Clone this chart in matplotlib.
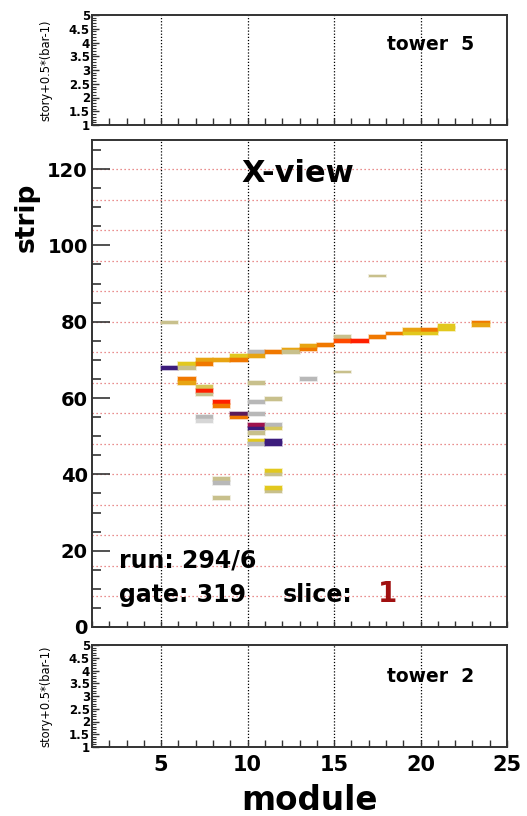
import matplotlib
matplotlib.use("Agg")
import matplotlib.pyplot as plt
from matplotlib.colors import to_rgba
from matplotlib.ticker import MultipleLocator, FixedLocator, FixedFormatter

plt.rcParams['font.family'] = ['DejaVu Sans']
plt.rcParams['font.weight'] = 'bold'

# ---------------- data ----------------
palette = {
    'purple': '#3c1c7c', 'plum': '#5c1a58', 'crimson': '#a0124c',
    'red': '#ff2000', 'redorange': '#ff4a00', 'orange': '#f07800',
    'amber': '#e8a412', 'yellow': '#e2c81e', 'ykhaki': '#d6c65a',
    'khaki': '#c8c08c', 'gray': '#b8b8b8', 'ltgray': '#d6d6d6',
}
hit_module = [5, 5,
              6, 6, 6, 6,
              7, 7, 7, 7, 7, 7, 7,
              8, 8, 8, 8, 8, 8,
              9, 9, 9, 9,
              10, 10, 10, 10, 10, 10, 10, 10, 10, 10,
              11, 11, 11, 11, 11, 11, 11, 11, 11, 11,
              12, 12,
              13, 13, 13,
              14,
              15, 15, 15,
              16,
              17, 17,
              18,
              19, 19,
              20, 20,
              21, 21,
              23, 23]
hit_strip = [67.3, 79.3,
             68.4, 67.4, 64.4, 63.4,
             69.4, 68.4, 62.3, 61.3, 60.4, 54.5, 53.5,
             69.4, 58.5, 57.5, 38.3, 37.2, 33.3,
             70.4, 69.4, 55.3, 54.5,
             71.6, 70.4, 63.4, 58.4, 55.3, 52.5, 51.5, 50.3, 48.3, 47.4,
             71.6, 59.3, 52.5, 51.5, 48.3, 47.4, 40.3, 39.5, 35.2, 35.9,
             72.4, 71.6,
             73.2, 72.4, 64.5,
             73.4,
             75.4, 74.4, 66.5,
             74.4,
             75.4, 91.7,
             76.4,
             77.4, 76.4,
             77.4, 76.4,
             77.5, 78.3,
             79.6, 78.6]
hit_size = [1, 1,
            1, 1, 1, 1,
            1, 1, 1, 1, 0.8, 1, 1,
            1, 1, 1, 1, 1, 1,
            1, 1, 1, 0.8,
            1, 1, 1, 1, 1, 1, 1, 1, 1, 1,
            1, 1, 1, 1, 1, 1, 1, 0.8, 1, 1,
            0.6, 1,
            1, 0.7, 1,
            1,
            1, 1, 0.6,
            1,
            1, 0.6,
            1,
            1, 1,
            1, 1,
            1, 1,
            0.7, 1]
hit_color = ['purple', 'khaki',
             'yellow', 'khaki', 'orange', 'amber',
             'amber', 'orange', 'ykhaki', 'red', 'khaki', 'gray', 'ltgray',
             'amber', 'red', 'orange', 'khaki', 'gray', 'khaki',
             'yellow', 'orange', 'plum', 'orange',
             'gray', 'amber', 'khaki', 'gray', 'gray', 'crimson', 'purple', 'khaki', 'yellow', 'gray',
             'orange', 'khaki', 'gray', 'ykhaki', 'purple', 'purple', 'yellow', 'khaki', 'khaki', 'yellow',
             'amber', 'khaki',
             'amber', 'orange', 'gray',
             'orange',
             'khaki', 'redorange', 'khaki',
             'red',
             'orange', 'khaki',
             'orange',
             'amber', 'yellow',
             'orange', 'yellow',
             'yellow', 'yellow',
             'orange', 'amber']

module_ticks = [5, 10, 15, 20, 25]
strip_ticks = [0, 20, 40, 60, 80, 100, 120]
story_ticks = [1, 1.5, 2, 2.5, 3, 3.5, 4, 4.5, 5]
story_labels = ['1', '1.5', '2', '2.5', '3', '3.5', '4', '4.5', '5']
grid_strips = list(range(8, 121, 8))
grid_modules = [5, 10, 15, 20]

# ---------------- figure ----------------
W, H = 527, 816
fig = plt.figure(figsize=(W / 100, H / 100), dpi=100)

def ax_px(x0, y0, x1, y1):
    return fig.add_axes([x0 / W, 1 - y1 / H, (x1 - x0) / W, (y1 - y0) / H])

def fpx(x, y):
    return x / W, 1 - y / H

frame_col = '#333333'

def style_frame(ax):
    for s in ax.spines.values():
        s.set_linewidth(1.4)
        s.set_color(frame_col)

def tower_panel(ax, show_xlabels):
    ax.set_xlim(1, 25)
    ax.set_ylim(1, 5)
    style_frame(ax)
    for m in grid_modules:
        ax.axvline(m, color='black', lw=0.9, ls=(0, (1, 1.5)), zorder=1)
    ax.yaxis.set_major_locator(FixedLocator(story_ticks))
    ax.yaxis.set_major_formatter(FixedFormatter(story_labels))
    ax.yaxis.set_minor_locator(MultipleLocator(0.1))
    ax.xaxis.set_major_locator(FixedLocator(module_ticks))
    ax.xaxis.set_minor_locator(MultipleLocator(1))
    ax.tick_params(axis='y', which='major', direction='in', length=5, width=1,
                   labelsize=8.5, pad=1.5, colors=frame_col, labelcolor='black')
    ax.tick_params(axis='y', which='minor', direction='in', length=3, width=0.8, colors=frame_col)
    ax.tick_params(axis='x', which='both', direction='in', length=5, width=1, colors=frame_col,
                   labelbottom=show_xlabels, labelsize=15, pad=6, labelcolor='black')
    ax.set_ylabel('story+0.5*(bar-1)', fontsize=8.3, labelpad=12)

# top panel (tower 5)
ax_top = ax_px(92, 15, 507, 125)
tower_panel(ax_top, False)
fig.text(*fpx(387, 45), 'tower  5', fontsize=13.5, ha='left', va='center')

# bottom panel (tower 2)
ax_bot = ax_px(92, 645, 507, 747)
tower_panel(ax_bot, True)
fig.text(*fpx(387, 677), 'tower  2', fontsize=13.5, ha='left', va='center')
fig.text(*fpx(309, 810), 'module', fontsize=23.5, ha='center', va='baseline')

# main X-view panel
ax = ax_px(92, 140, 507, 627)
ax.set_xlim(1, 25)
ax.set_ylim(0, 127.6)
style_frame(ax)
for s in grid_strips:
    ax.axhline(s, color='#e26a6a', lw=0.9, ls=(0, (1, 2.2)), zorder=1)
for m in grid_modules:
    ax.axvline(m, color='black', lw=0.9, ls=(0, (1, 1.5)), zorder=1)

for m, s, h, c in zip(hit_module, hit_strip, hit_size, hit_color):
    col = palette[c]
    ax.bar(m, h, bottom=s, width=1, align='edge', color=col,
           edgecolor=to_rgba(col, 0.35), linewidth=1.2, zorder=3)

ax.yaxis.set_major_locator(FixedLocator(strip_ticks))
ax.yaxis.set_minor_locator(MultipleLocator(5))
ax.xaxis.set_major_locator(FixedLocator(module_ticks))
ax.xaxis.set_minor_locator(MultipleLocator(1))
ax.tick_params(axis='y', which='major', direction='in', length=13, width=1.2,
               labelsize=14, pad=3, colors=frame_col, labelcolor='black')
ax.tick_params(axis='y', which='minor', direction='in', length=6.5, width=1.2, colors=frame_col)
ax.tick_params(axis='x', which='both', direction='in', length=4.5, width=1, colors=frame_col,
               labelbottom=False)

fig.text(*fpx(27, 217), 'strip', fontsize=19, rotation=90, ha='center', va='center')
fig.text(*fpx(298, 173), 'X-view', fontsize=22, ha='center', va='center')
fig.text(*fpx(119, 568), 'run: 294/6', fontsize=17, ha='left', va='baseline')
fig.text(*fpx(119, 602), 'gate: 319', fontsize=17, ha='left', va='baseline')
fig.text(*fpx(283, 602), 'slice:', fontsize=17, ha='left', va='baseline')
fig.text(*fpx(378, 602), '1', fontsize=20, ha='left', va='baseline', color='#a01010')

fig.savefig('out.png', dpi=100)
